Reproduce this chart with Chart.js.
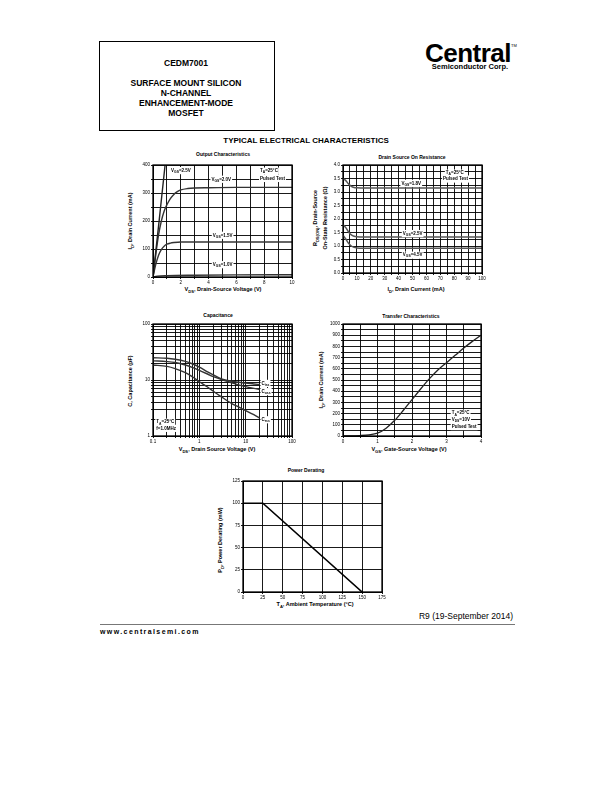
<!DOCTYPE html>
<html>
<head>
<meta charset="utf-8">
<script src="https://cdn.jsdelivr.net/npm/chart.js@4.4.0/dist/chart.umd.min.js"></script>
<style>
body { margin: 0; background: #fff; }
#page { position: relative; width: 612px; height: 792px; font-family: "Liberation Sans", Arial, sans-serif; color: #000; overflow: hidden; }
.abs { position: absolute; white-space: nowrap; line-height: 1; }
.c { transform: translate(-50%, -50%); }
.rot { transform: translate(-50%, -50%) rotate(-90deg); }
.hd { font-weight: bold; font-size: 8.5px; }
.ttl { font-weight: bold; font-size: 5px; }
.axt { font-weight: bold; font-size: 5.5px; }
sub { font-size: 75%; vertical-align: -0.35em; line-height: 0; }
canvas { position: absolute; }
</style>
</head>
<body>
<div id="page">
  <div class="abs" style="left:99px;top:41px;width:174px;height:88px;border:1px solid #000;"></div>
  <div class="abs c hd" style="left:186px;top:63px;">CEDM7001</div>
  <div class="abs c hd" style="left:186px;top:83px;">SURFACE MOUNT SILICON</div>
  <div class="abs c hd" style="left:186px;top:93px;">N-CHANNEL</div>
  <div class="abs c hd" style="left:186px;top:103px;">ENHANCEMENT-MODE</div>
  <div class="abs c hd" style="left:186px;top:113px;">MOSFET</div>

  <div class="abs c" style="left:468px;top:53px;font-weight:bold;font-size:26px;letter-spacing:-0.5px;">Central</div>
  <div class="abs c" style="left:470px;top:67px;font-weight:bold;font-size:7.5px;">Semiconductor Corp.</div>
  <div class="abs c" style="left:514px;top:46px;font-size:4px;">TM</div>

  <div class="abs c" style="left:306px;top:141px;font-weight:bold;font-size:8px;">TYPICAL ELECTRICAL CHARACTERISTICS</div>

  <div class="abs c ttl" style="left:223px;top:154px;">Output Characteristics</div>
  <div class="abs c axt" style="left:223px;top:290px;">V<sub>DS</sub>, Drain-Source Voltage (V)</div>
  <div class="abs rot axt" style="left:131px;top:221px;">I<sub>D</sub>, Drain Current (mA)</div>

  <div class="abs c ttl" style="left:412px;top:157px;">Drain Source On Resistance</div>
  <div class="abs c axt" style="left:416px;top:290px;">I<sub>D</sub>, Drain Current (mA)</div>
  <div class="abs rot axt" style="left:316px;top:218px;">R<sub>DS(ON)</sub>, Drain-Source</div>
  <div class="abs rot axt" style="left:326px;top:218px;">On-State Resistance (&Omega;)</div>

  <div class="abs c ttl" style="left:218px;top:315px;">Capacitance</div>
  <div class="abs c axt" style="left:217px;top:450px;">V<sub>DS</sub>, Drain Source Voltage (V)</div>
  <div class="abs rot axt" style="left:131px;top:381px;">C, Capacitance (pF)</div>

  <div class="abs c ttl" style="left:411px;top:316px;">Transfer Characteristics</div>
  <div class="abs c axt" style="left:409px;top:450px;">V<sub>GS</sub>, Gate-Source Voltage (V)</div>
  <div class="abs rot axt" style="left:322px;top:380px;">I<sub>D</sub>, Drain Current (mA)</div>

  <div class="abs c ttl" style="left:306px;top:470px;">Power Derating</div>
  <div class="abs c axt" style="left:315px;top:605px;">T<sub>A</sub>, Ambient Temperature (&deg;C)</div>
  <div class="abs rot axt" style="left:221px;top:540px;">P<sub>D</sub>, Power Derating (mW)</div>

  <div class="abs" style="right:99px;top:612px;font-size:8.5px;">R9 (19-September 2014)</div>
  <div class="abs" style="left:100px;top:624px;width:415px;height:1px;background:#777;"></div>
  <div class="abs" style="left:100px;top:628px;font-weight:bold;font-size:7px;letter-spacing:1.4px;">www.centralsemi.com</div>
</div>

<script>
Chart.defaults.font.family = "'Liberation Sans', Arial, sans-serif";
Chart.defaults.color = '#000';

// Output Characteristics (VDS in V, ID in mA)
const outVds25 = [0, 0.45, 0.87];
const outId25 = [0, 205, 400];
const outVds20 = [0, 0.2, 0.4, 0.6, 0.8, 1.0, 1.25, 1.5, 1.75, 2.0, 2.5, 3, 4, 6, 8, 10];
const outId20 = [0, 80, 150, 200, 235, 258, 280, 295, 305, 311, 316, 318, 319, 320, 320, 320];
const outVds15 = [0, 0.2, 0.4, 0.6, 0.8, 1.0, 1.25, 1.5, 2, 3, 5, 10];
const outId15 = [0, 45, 78, 98, 110, 117, 121, 123, 125, 125, 125, 125];
const outVds10 = [0, 0.3, 1, 3, 6, 10];
const outId10 = [0, 3, 5, 6.5, 7.5, 8];
const outXLabels = [0, 2, 4, 6, 8, 10];
const outYLabels = [0, 100, 200, 300, 400];

// Drain Source On Resistance (ID in mA, ohms)
const rdsId = [0, 2, 4, 6, 8, 10, 15, 100];
const rds18 = [3.5, 3.42, 3.3, 3.21, 3.17, 3.16, 3.15, 3.15];
const rds25 = [1.8, 1.68, 1.52, 1.41, 1.36, 1.34, 1.33, 1.33];
const rds45 = [1.4, 1.26, 1.1, 1.0, 0.95, 0.93, 0.92, 0.92];
const rdsXLabels = [0, 10, 20, 30, 40, 50, 60, 70, 80, 90, 100];
const rdsYLabels = [0, 0.5, 1, 1.5, 2, 2.5, 3, 3.5, 4];

// Capacitance (VDS in V, pF)
const capVds = [0.1, 0.2, 0.3, 0.5, 0.7, 1, 1.5, 2, 3, 5, 7, 10, 15, 20];
const capCiss = [25, 24.5, 23.5, 21.5, 19.5, 17, 14, 12.3, 10.5, 9.5, 9.1, 8.8, 8.5, 8.3];
const capCoss = [22, 21.3, 20.5, 18.5, 16.8, 14.8, 12.8, 11.5, 10.2, 8.9, 8.2, 7.6, 7.1, 6.8];
const capCrss = [18.5, 17.5, 16, 13.5, 11.5, 9.3, 7.5, 6.3, 5.0, 3.8, 3.3, 2.85, 2.4, 2.1];
const capXLabels = [0.1, 1, 10, 100];
const capYLabels = [1, 10, 100];

// Transfer Characteristics (VGS in V, ID in mA)
const trVgs = [0, 0.5, 0.75, 1.0, 1.25, 1.5, 1.75, 2.0, 2.25, 2.5, 2.75, 3.0, 3.25, 3.5, 3.75, 4.0];
const trId = [0, 4, 10, 25, 70, 140, 230, 325, 420, 510, 590, 655, 720, 785, 845, 900];
const trXLabels = [0, 1, 2, 3, 4];
const trYLabels = [0, 100, 200, 300, 400, 500, 600, 700, 800, 900, 1000];

// Power Derating (TA in C, PD in mW)
const pdTa = [0, 25, 150];
const pdMw = [100, 100, 0];
const pdXLabels = [0, 25, 50, 75, 100, 125, 150, 175];
const pdYLabels = [0, 25, 50, 75, 100, 125];

const page = document.getElementById('page');

function range(min, max, step) {
  const a = [];
  for (let v = min; v <= max + 1e-9; v += step) a.push(+v.toFixed(4));
  return a;
}
function logTicks(lo, hi) {
  const a = [];
  for (let e = lo; e < hi; e++)
    for (let k = 1; k < 10; k++) a.push(+(k * Math.pow(10, e)).toPrecision(3));
  a.push(Math.pow(10, hi));
  return a;
}

// text with _{sub} parts, drawn at the data point (left / middle)
function drawRich(ctx, x, y, txt, size, bg) {
  const parts = [];
  const re = /_\{([^}]*)\}/g;
  let last = 0, m;
  while ((m = re.exec(txt))) {
    if (m.index > last) parts.push([txt.slice(last, m.index), false]);
    parts.push([m[1], true]);
    last = re.lastIndex;
  }
  if (last < txt.length) parts.push([txt.slice(last), false]);
  const big = 'bold ' + size + "px 'Liberation Sans', Arial, sans-serif";
  const small = 'bold ' + (size * 0.75) + "px 'Liberation Sans', Arial, sans-serif";
  let w = 0;
  parts.forEach(p => { ctx.font = p[1] ? small : big; w += ctx.measureText(p[0]).width; });
  if (bg) {
    ctx.fillStyle = '#fff';
    ctx.fillRect(x - 1, y - size * 0.8, w + 2, size * 1.6);
  }
  ctx.fillStyle = '#000';
  ctx.textBaseline = 'middle';
  ctx.textAlign = 'left';
  let cx = x;
  parts.forEach(p => {
    ctx.font = p[1] ? small : big;
    ctx.fillText(p[0], cx, p[1] ? y + size * 0.3 : y);
    cx += ctx.measureText(p[0]).width;
  });
}

const notesPlugin = {
  id: 'notes',
  afterDatasetsDraw(chart, args, opts) {
    const ctx = chart.ctx, a = chart.chartArea;
    ctx.save();
    (opts.items || []).forEach(n => {
      drawRich(ctx, chart.scales.x.getPixelForValue(n.x), chart.scales.y.getPixelForValue(n.y),
        n.text, opts.size || 4.5, n.bg !== false);
    });
    ctx.strokeStyle = '#000';
    ctx.lineWidth = 1.3;
    ctx.strokeRect(a.left, a.top, a.right - a.left, a.bottom - a.top);
    ctx.restore();
  }
};

function axis(type, min, max, ticks, labels, fmt) {
  return {
    type: type, min: min, max: max,
    afterBuildTicks: s => { s.ticks = ticks.map(v => ({ value: v })); },
    ticks: {
      autoSkip: false, maxRotation: 0, minRotation: 0, padding: 1,
      font: { size: 4.5 }, color: '#000',
      callback: v => labels.includes(v) ? fmt(v) : ''
    },
    grid: { color: '#000', lineWidth: 0.9, tickLength: 2 },
    border: { color: '#000', width: 1 }
  };
}

function series(xs, ys, color, width, smooth) {
  return {
    data: xs.map((x, i) => ({ x: x, y: ys[i] })),
    showLine: true, borderColor: color, borderWidth: width,
    pointRadius: 0, fill: false,
    cubicInterpolationMode: smooth ? 'monotone' : 'default', tension: 0
  };
}

function makeChart(box, datasets, xs, ys, notes) {
  const yw = 18, xh = 10, pt = 6, pr = 8;
  const cv = document.createElement('canvas');
  cv.width = box.r - box.l + yw + pr;
  cv.height = box.b - box.t + pt + xh;
  cv.style.left = (box.l - yw) + 'px';
  cv.style.top = (box.t - pt) + 'px';
  page.appendChild(cv);
  xs.afterFit = s => { s.height = xh; s.paddingLeft = 0; s.paddingRight = 0; };
  ys.afterFit = s => { s.width = yw; s.paddingTop = 0; s.paddingBottom = 0; };
  return new Chart(cv, {
    type: 'scatter',
    data: { datasets: datasets },
    options: {
      responsive: false, animation: false, devicePixelRatio: 1,
      layout: { padding: { left: 0, top: pt, right: pr, bottom: 0 } },
      scales: { x: xs, y: ys },
      plugins: { legend: { display: false }, tooltip: { enabled: false }, notes: { items: notes } }
    },
    plugins: [notesPlugin]
  });
}

const int = v => String(v);

makeChart({ l: 153, t: 165, r: 292, b: 277 }, [
  series(outVds25, outId25, '#222', 1.4, false),
  series(outVds20, outId20, '#333', 1.4, true),
  series(outVds15, outId15, '#333', 1.4, true),
  series(outVds10, outId10, '#333', 1.4, true)
], axis('linear', 0, 10, range(0, 10, 1), outXLabels, int),
   axis('linear', 0, 400, range(0, 400, 50), outYLabels, int), [
  { x: 1.3, y: 380, text: 'V_{GS}=2.5V' },
  { x: 4.2, y: 349, text: 'V_{GS}=2.0V' },
  { x: 7.7, y: 378, text: 'T_{A}=25°C' },
  { x: 7.7, y: 352, text: 'Pulsed Test' },
  { x: 4.3, y: 149, text: 'V_{GS}=1.5V' },
  { x: 4.3, y: 44, text: 'V_{GS}=1.0V' }
]);

makeChart({ l: 343, t: 165, r: 482, b: 273 }, [
  series(rdsId, rds18, '#555', 1.5, true),
  series(rdsId, rds25, '#555', 1.5, true),
  series(rdsId, rds45, '#555', 1.5, true)
], axis('linear', 0, 100, range(0, 100, 5), rdsXLabels, int),
   axis('linear', 0, 4, range(0, 4, 0.25), rdsYLabels, v => v.toFixed(1)), [
  { x: 74, y: 3.7, text: 'T_{A}=25°C' },
  { x: 72, y: 3.48, text: 'Pulsed Test' },
  { x: 42, y: 3.32, text: 'V_{GS}=1.8V' },
  { x: 43, y: 1.46, text: 'V_{GS}=2.5V' },
  { x: 43, y: 0.66, text: 'V_{GS}=4.5V' }
]);

makeChart({ l: 153, t: 324, r: 292, b: 436 }, [
  series(capVds, capCiss, '#333', 1.4, true),
  series(capVds, capCoss, '#333', 1.4, true),
  series(capVds, capCrss, '#333', 1.4, true)
], axis('logarithmic', 0.1, 100, logTicks(-1, 2), capXLabels, int),
   axis('logarithmic', 1, 100, logTicks(0, 2), capYLabels, int), [
  { x: 22, y: 8.7, text: 'C_{iss}' },
  { x: 22, y: 6.2, text: 'C_{oss}' },
  { x: 22, y: 1.95, text: 'C_{rss}' },
  { x: 0.118, y: 1.76, text: 'T_{A}=25°C' },
  { x: 0.118, y: 1.37, text: 'f=1.0MHz' }
]);

makeChart({ l: 343, t: 324, r: 481, b: 436 }, [
  series(trVgs, trId, '#222', 1.3, true)
], axis('linear', 0, 4, range(0, 4, 0.5), trXLabels, int),
   axis('linear', 0, 1000, range(0, 1000, 50), trYLabels, int), [
  { x: 3.15, y: 203, text: 'T_{A}=25°C' },
  { x: 3.15, y: 143, text: 'V_{DS}=10V' },
  { x: 3.15, y: 84, text: 'Pulsed Test' }
]);

makeChart({ l: 243, t: 481, r: 382, b: 592 }, [
  series(pdTa, pdMw, '#000', 1.6, false)
], axis('linear', 0, 175, range(0, 175, 25), pdXLabels, int),
   axis('linear', 0, 125, range(0, 125, 25), pdYLabels, int), []);
</script>
</body>
</html>
